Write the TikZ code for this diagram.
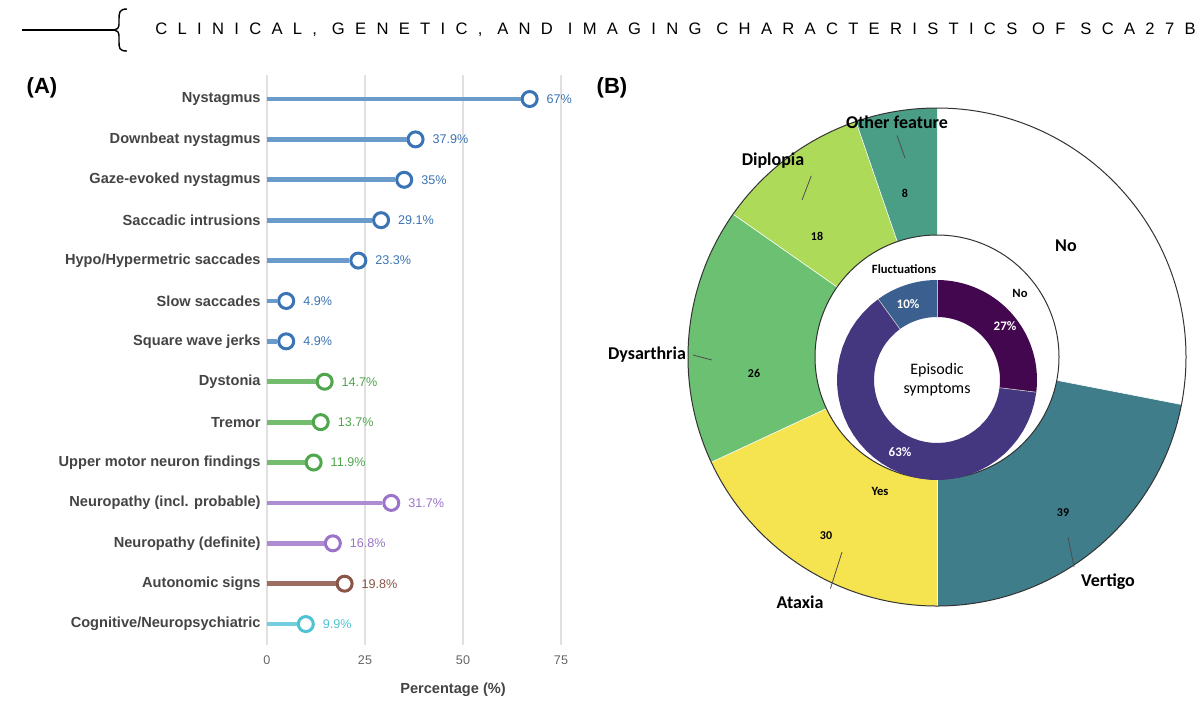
\documentclass[tikz,border=0pt]{standalone}
\usepackage{fontspec}
\setmainfont{Liberation Sans}
\newfontfamily\carl{Carlito}
\newfontfamily\ttl[LetterSpace=62]{Liberation Sans}
\definecolor{cb}{HTML}{3A74B4}\definecolor{cbl}{HTML}{6B9BCB}
\definecolor{cg}{HTML}{4FA64C}\definecolor{cgl}{HTML}{74BD6E}
\definecolor{cp}{HTML}{9B73C8}\definecolor{cpl}{HTML}{AE8CD4}
\definecolor{cr}{HTML}{8A5446}\definecolor{crl}{HTML}{9C6E62}
\definecolor{cc}{HTML}{4FC3D4}\definecolor{ccl}{HTML}{73CFDD}
\definecolor{lbl}{HTML}{444444}
\definecolor{vNo}{HTML}{42074F}\definecolor{vYes}{HTML}{453680}\definecolor{vFl}{HTML}{3B5F8E}
\definecolor{vVert}{HTML}{3F7D8B}\definecolor{vAtax}{HTML}{F6E350}\definecolor{vDys}{HTML}{6CC072}
\definecolor{vDip}{HTML}{AEDA5A}\definecolor{vOth}{HTML}{4B9E86}
\tikzset{
 rowlbl/.style={anchor=east,inner sep=0pt,font=\bfseries\fontsize{7.3}{8}\selectfont,text=lbl},
 vallbl/.style={anchor=west,font=\fontsize{6.3}{7}\selectfont},
 seglbl/.style={font=\carl\bfseries\fontsize{9}{10}\selectfont},
 numlbl/.style={font=\carl\bfseries\fontsize{6}{7}\selectfont},
 lead/.style={draw=black!70,line width=0.4pt}
}
\begin{document}
\begin{tikzpicture}[x=0.5pt,y=-0.5pt]
\useasboundingbox (0,0) rectangle (1200,709);
\fill[white] (0,0) rectangle (1200,709);
% header
\coordinate (h1) at (22,30); \coordinate (h2) at (116,30);
\draw[line width=0.7pt] (h1) -- (h2);
\draw[line width=0.7pt] (127,9) .. controls (119,9) and (119,13) .. (119,20) -- (119,24) .. controls (119,28) and (117,30) .. (114,30) .. controls (117,30) and (119,32) .. (119,36) -- (119,41) .. controls (119,48) and (119,51) .. (127,51);
\node[anchor=west,inner sep=0] (title) at (155,30) {\ttl\fontsize{8.3}{9}\selectfont CLINICAL, GENETIC, AND IMAGING CHARACTERISTICS OF SCA27B};
\node[font=\bfseries\fontsize{11}{12}\selectfont] (A) at (42,88) {(A)};
\node[font=\bfseries\fontsize{11}{12}\selectfont] (B) at (612,88) {(B)};
% grid
\foreach \v/\t in {0/0,25/25,50/50,75/75}{
 \draw[black!12,line width=0.6pt] ({267+3.92*\v},75) -- ({267+3.92*\v},645);
 \node[font=\fontsize{6.3}{7}\selectfont,text=black!60] (t\v) at ({267+3.92*\v},660) {\t};}
\node[font=\bfseries\fontsize{7.3}{8}\selectfont,text=lbl] (xl) at (453,690) {Percentage (\%)};
% rows
\foreach \i/\name/\v/\c/\cl in {
 0/Nystagmus/67/cb/cbl, 1/Downbeat nystagmus/37.9/cb/cbl, 2/Gaze-evoked nystagmus/35/cb/cbl,
 3/Saccadic intrusions/29.1/cb/cbl, 4/Hypo\slash Hypermetric saccades/23.3/cb/cbl,
 5/Slow saccades/4.9/cb/cbl, 6/Square wave jerks/4.9/cb/cbl, 7/Dystonia/14.7/cg/cgl,
 8/Tremor/13.7/cg/cgl, 9/Upper motor neuron findings/11.9/cg/cgl,
 10/Neuropathy (incl. probable)/31.7/cp/cpl, 11/Neuropathy (definite)/16.8/cp/cpl,
 12/Autonomic signs/19.8/cr/crl, 13/Cognitive\slash Neuropsychiatric/9.9/cc/ccl}{
 \pgfmathsetmacro{\yy}{99+40.39*\i}
 \pgfmathsetmacro{\xx}{267+3.92*\v}
 \node[rowlbl] (r\i) at (261,\yy) {\name};
 \coordinate (s\i) at (267,\yy);
 \node[circle,draw=\c,fill=white,line width=1.5pt,minimum size=7.5pt,inner sep=0] (p\i) at (\xx,\yy) {};
 \draw[\cl,line width=2.4pt] (s\i) -- (p\i.west);
 \node[vallbl,text=\c] (v\i) at (\xx+10,\yy) {\v\%};
}
% outer donut
\def\cx{937}\def\cy{357}\def\Ro{249}\def\Ri{122}
\foreach \a/\b/\c in {0/101/white,101/180/vVert,180/245/vAtax,245/305/vDys,305/341/vDip,341/360/vOth}{
 \fill[\c] plot[domain=\a:\b,samples=50] ({\cx+\Ro*sin(\x)},{\cy-\Ro*cos(\x)})
  -- plot[domain=\b:\a,samples=50] ({\cx+\Ri*sin(\x)},{\cy-\Ri*cos(\x)}) -- cycle;
 \draw[white,line width=0.3pt] ({\cx+\Ri*sin(\a)},{\cy-\Ri*cos(\a)}) -- ({\cx+\Ro*sin(\a)},{\cy-\Ro*cos(\a)});
}
\draw[black!80,line width=0.5pt] (\cx,\cy) circle[radius=124.5pt];
\draw[black!80,line width=0.5pt] (\cx,\cy) circle[radius=61pt];
% inner donut
\def\dy{380}\def\ro{100}\def\ri{63}
\foreach \a/\b/\c in {0/97/vNo,97/324/vYes,324/360/vFl}{
 \fill[\c] plot[domain=\a:\b,samples=40] ({\cx+\ro*sin(\x)},{\dy-\ro*cos(\x)})
  -- plot[domain=\b:\a,samples=40] ({\cx+\ri*sin(\x)},{\dy-\ri*cos(\x)}) -- cycle;
 \draw[white!80!black,line width=0.3pt] ({\cx+\ri*sin(\a)},{\dy-\ri*cos(\a)}) -- ({\cx+\ro*sin(\a)},{\dy-\ro*cos(\a)});
}
% outer labels
\node[seglbl] (lo) at (897,122) {Other feature};
\node[seglbl] (ld) at (773,161) {Diplopia};
\node[seglbl] (ly) at (647,355) {Dysarthria};
\node[seglbl] (la) at (800,602) {Ataxia};
\node[seglbl] (lv) at (1108,582) {Vertigo};
\node[seglbl] (ln) at (1066,246) {No};
\coordinate (eo) at (905,158); \coordinate (ed) at (802,200);
\coordinate (ey) at (712,360); \coordinate (ea) at (842,552); \coordinate (ev) at (1068,537);
\draw[lead] (lo.south) -- (eo);
\draw[lead] (ld.south east) -- (ed);
\draw[lead] (ly.east) -- (ey);
\draw[lead] (la.north east) -- (ea);
\draw[lead] (lv.north west) -- (ev);
\node[numlbl] (n8) at (905,193) {8};
\node[numlbl] (n18) at (817,236) {18};
\node[numlbl] (n26) at (754,373) {26};
\node[numlbl] (n30) at (826,536) {30};
\node[numlbl] (n39) at (1063,513) {39};
% inner labels
\node[numlbl,font=\carl\bfseries\fontsize{6.3}{7}\selectfont] (lf) at (904,269) {Fluctuations};
\node[numlbl,font=\carl\bfseries\fontsize{6.3}{7}\selectfont] (lno) at (1020,293) {No};
\node[numlbl,font=\carl\bfseries\fontsize{6.3}{7}\selectfont] (lyes) at (880,491) {Yes};
\node[numlbl,text=white,font=\carl\bfseries\fontsize{6.5}{7}\selectfont] (p10) at (908,304) {10\%};
\node[numlbl,text=white,font=\carl\bfseries\fontsize{6.5}{7}\selectfont] (p27) at (1005,326) {27\%};
\node[numlbl,text=white,font=\carl\bfseries\fontsize{6.5}{7}\selectfont] (p63) at (900,452) {63\%};
\node[align=center,font=\carl\fontsize{8}{9.5}\selectfont] (ep) at (937,380) {Episodic\\symptoms};
\end{tikzpicture}
\end{document}
